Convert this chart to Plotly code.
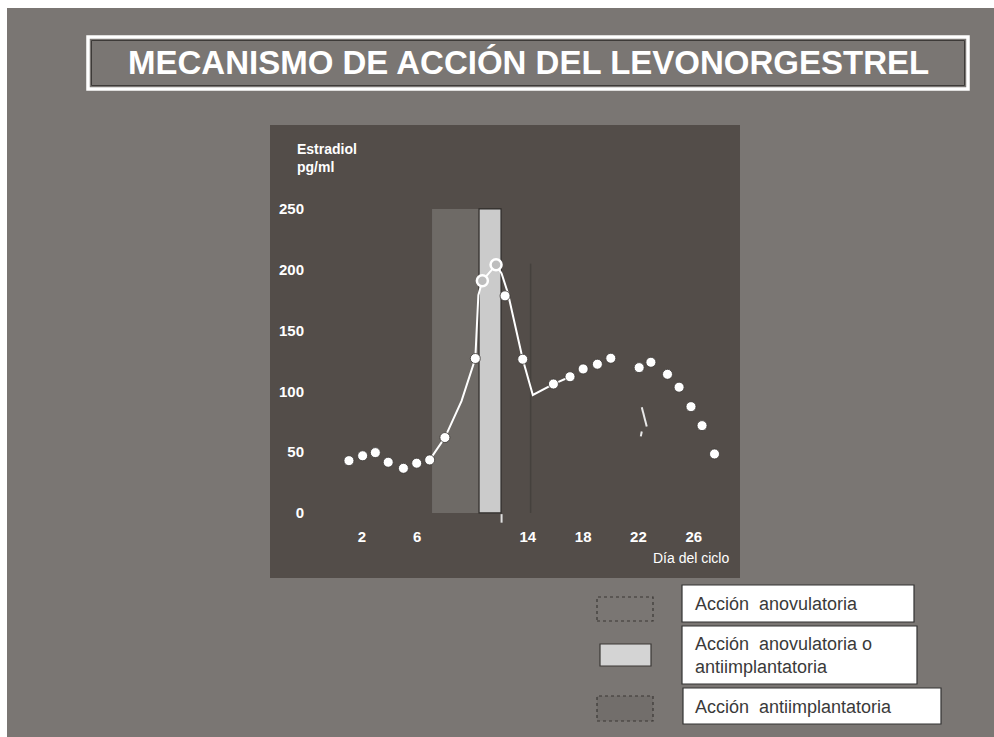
import plotly.graph_objects as go

# ---------------- data ----------------
dot_days = [1.06, 2.05, 2.97, 3.9, 5.0, 5.96, 6.9, 8.0, 10.2, 12.35, 13.63,
            15.85, 17.05, 18.0, 19.03, 20.0, 22.05, 22.9, 24.1, 24.94, 25.8, 26.6, 27.5]
dot_vals = [43, 47, 49.6, 41.7, 36.7, 40.9, 43.6, 62, 127, 178.5, 126.4,
            106, 112, 118.4, 122.3, 127.2, 119.5, 123.9, 114, 103.4, 87.4, 71.8, 48.5]

open_days = [10.71, 11.7]
open_vals = [191, 204]

line_days = [6.9, 8.0, 9.2, 10.2, 10.42, 10.71, 11.7, 12.1, 12.55, 13.63, 14.36, 15.85, 17.05]
line_vals = [43.6, 62, 92, 127, 179, 191, 204, 197, 181, 126.4, 97, 106, 112]

stroke_days = [22.24, 22.6, None, 22.24, 22.17]
stroke_vals = [87, 71, None, 67, 63]

y_ticks = [0, 50, 100, 150, 200, 250]
x_ticks = [2, 6, 14, 18, 22, 26]

anov_days = [7.07, 10.47]        # Acción anovulatoria band
mixed_days = [10.47, 12.06]      # Acción anovulatoria o antiimplantatoria band
band_top = 250

title = "MECANISMO DE ACCIÓN DEL LEVONORGESTREL"
legend_labels = ["Acción\u00a0\u00a0anovulatoria",
                 "Acción\u00a0\u00a0anovulatoria o<br>antiimplantatoria",
                 "Acción\u00a0\u00a0antiimplantatoria"]

# ---------------- layout helpers ----------------
W, H = 994, 737
def px(x): return x / W
def py(y): return 1 - y / H

PAGE = "#7a7673"
PANEL = "#534d49"
LIGHT = "#6e6a66"
BAR = "#cbcbcb"
FONT = "Liberation Sans, Arial, sans-serif"

fig = go.Figure()

fig.add_trace(go.Scatter(x=line_days, y=line_vals, mode="lines",
                         line=dict(color="white", width=2), hoverinfo="skip"))
fig.add_trace(go.Scatter(x=stroke_days, y=stroke_vals, mode="lines",
                         line=dict(color="#e8e8e8", width=2), hoverinfo="skip"))
fig.add_trace(go.Scatter(x=dot_days, y=dot_vals, mode="markers",
                         marker=dict(size=10, color="white",
                                     line=dict(color="#3a3633", width=0.8))))
fig.add_trace(go.Scatter(x=open_days, y=open_vals, mode="markers",
                         marker=dict(size=11, color="#bdbdbd",
                                     line=dict(color="white", width=2.5))))

shapes = []
# page with thin white scan border on top / left
shapes.append(dict(type="rect", xref="paper", yref="paper", x0=px(7), x1=1,
                   y0=0, y1=py(8), fillcolor=PAGE, line=dict(width=0), layer="below"))
# title frame
shapes.append(dict(type="rect", xref="paper", yref="paper", x0=px(88), x1=px(968),
                   y0=py(89), y1=py(37), line=dict(color="white", width=3.5), layer="below"))
shapes.append(dict(type="rect", xref="paper", yref="paper", x0=px(91.5), x1=px(964.5),
                   y0=py(85.5), y1=py(40.5), line=dict(color="#3d3a38", width=1), layer="below"))
# chart panel
shapes.append(dict(type="rect", xref="paper", yref="paper", x0=px(270), x1=px(740),
                   y0=py(578), y1=py(125), fillcolor=PANEL, line=dict(width=0), layer="below"))
# bands
shapes.append(dict(type="rect", xref="x", yref="y", x0=anov_days[0], x1=anov_days[1],
                   y0=0, y1=band_top, fillcolor=LIGHT, line=dict(width=0), layer="below"))
shapes.append(dict(type="rect", xref="x", yref="y", x0=mixed_days[0], x1=mixed_days[1],
                   y0=0, y1=band_top, fillcolor=BAR, line=dict(color="#2f2c2a", width=1.2),
                   layer="below"))
# faint divider and tick remnant
shapes.append(dict(type="line", xref="x", yref="y", x0=14.2, x1=14.2, y0=0, y1=205,
                   line=dict(color="#45413d", width=1.5), layer="below"))
shapes.append(dict(type="line", xref="x", yref="y", x0=12.1, x1=12.1, y0=-1, y1=-8,
                   line=dict(color="#e0e0e0", width=2), layer="below"))

# legend swatches and boxes
sw = [(597, 653, 597, 621, PAGE, "dot"), (600, 651, 644, 666, "#d4d4d4", "solid"),
      (597, 653, 696, 721, "#726e6b", "dot")]
for x0, x1, y0, y1, c, d in sw:
    shapes.append(dict(type="rect", xref="paper", yref="paper", x0=px(x0), x1=px(x1),
                       y0=py(y1), y1=py(y0), fillcolor=c,
                       line=dict(color="#3a3735", width=1.2, dash=d), layer="below"))
boxes = [(682, 914, 585, 622), (682, 917, 626, 684), (683, 941, 688, 724)]
for x0, x1, y0, y1 in boxes:
    shapes.append(dict(type="rect", xref="paper", yref="paper", x0=px(x0), x1=px(x1),
                       y0=py(y1), y1=py(y0), fillcolor="white",
                       line=dict(color="#333333", width=1.2), layer="below"))

annotations = [
    dict(text=title, xref="paper", yref="paper", x=px(528), y=py(63), showarrow=False,
         xanchor="center", yanchor="middle",
         font=dict(family=FONT, size=33, color="white", weight="bold")),
    dict(text="Estradiol<br>pg/ml", xref="paper", yref="paper", x=px(295), y=py(158),
         showarrow=False, xanchor="left", yanchor="middle", align="left",
         font=dict(family=FONT, size=14, color="white", weight="bold")),
    dict(text="Día del ciclo", xref="paper", yref="paper", x=px(731), y=py(558),
         showarrow=False, xanchor="right", yanchor="middle",
         font=dict(family=FONT, size=14, color="white")),
]
leg_pos = [(693, 604), (693, 655), (693, 707)]
for (x, y), t in zip(leg_pos, legend_labels):
    annotations.append(dict(text=t, xref="paper", yref="paper", x=px(x), y=py(y),
                            showarrow=False, xanchor="left", yanchor="middle", align="left",
                            font=dict(family=FONT, size=18, color="#3a3a3a")))

fig.update_layout(
    width=W, height=H, margin=dict(l=0, r=0, t=0, b=0),
    paper_bgcolor="white", plot_bgcolor="rgba(0,0,0,0)",
    showlegend=False, shapes=shapes, annotations=annotations,
    xaxis=dict(domain=[px(270), px(738)], range=[-4.65, 29.2], anchor="free",
               position=py(526), tickvals=x_ticks, ticktext=[str(v) for v in x_ticks],
               showgrid=False, zeroline=False, showline=False, ticks="",
               tickfont=dict(family=FONT, size=15, color="white", weight="bold")),
    yaxis=dict(domain=[py(578), py(125)], range=[-53.5, 319], anchor="free",
               position=px(304), tickvals=y_ticks, ticktext=[str(v) for v in y_ticks],
               showgrid=False, zeroline=False, showline=False, ticks="",
               tickfont=dict(family=FONT, size=15, color="white", weight="bold")),
)

fig.write_html("out.html", config={"displayModeBar": False},
               post_script="document.body.style.margin='0';document.body.style.overflow='hidden';")
